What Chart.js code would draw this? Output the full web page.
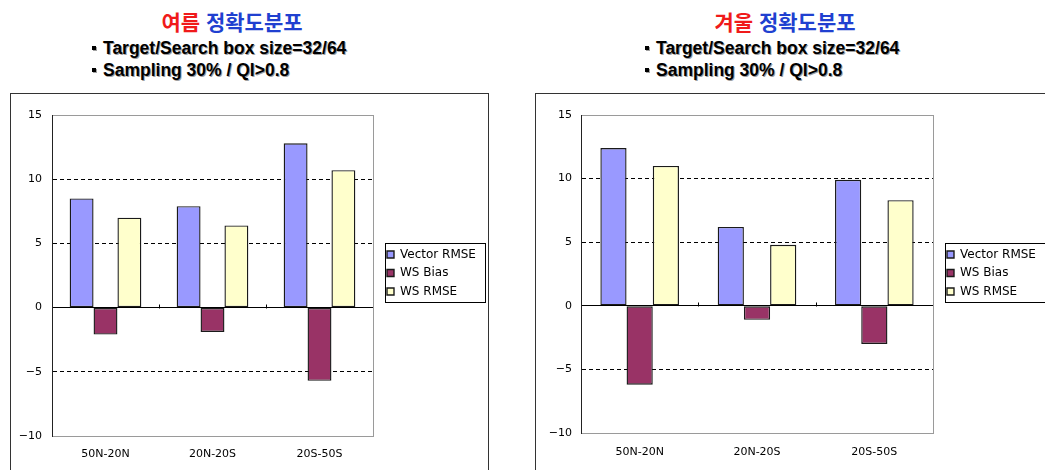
<!DOCTYPE html>
<html lang="ko">
<head>
<meta charset="utf-8">
<script src="https://cdn.jsdelivr.net/npm/chart.js@4.4.1/dist/chart.umd.min.js"></script>
<style>
  html, body { margin: 0; padding: 0; background: #fff; width: 1045px; height: 470px; overflow: hidden; position: relative; }
  .title { position: absolute; top: 9px; font: bold 21px "Noto Sans CJK KR", sans-serif; line-height: 24px; white-space: nowrap; transform: translateX(-50%); }
  .title .season { color: #f01a1a; }
  .title .topic { color: #2040d0; }
  .note { position: absolute; font: bold 17.5px "Liberation Sans", Arial, sans-serif; line-height: 20px; color: #000; white-space: nowrap; text-shadow: 1px 1px 0 #a0a0a0; }
  .note .dot { display: inline-block; width: 4px; height: 4px; background: #000; box-shadow: 1px 1px 0 #a0a0a0; vertical-align: middle; margin-right: 7px; position: relative; top: -1px; }
  .frame { position: absolute; top: 93px; height: 420px; border: 1px solid #333; background: #fff; }
  canvas { position: absolute; }
</style>
</head>
<body>
  <div class="title" style="left:232px"><span class="season">여름</span> <span class="topic">정확도분포</span></div>
  <div class="note" style="left:92px; top:38px"><span class="dot"></span>Target/Search box size=32/64</div>
  <div class="note" style="left:92px; top:60px"><span class="dot"></span>Sampling 30% / QI&gt;0.8</div>

  <div class="title" style="left:785px"><span class="season">겨울</span> <span class="topic">정확도분포</span></div>
  <div class="note" style="left:645px; top:38px"><span class="dot"></span>Target/Search box size=32/64</div>
  <div class="note" style="left:645px; top:60px"><span class="dot"></span>Sampling 30% / QI&gt;0.8</div>

  <div class="frame" style="left:10px; width:477px"></div>
  <div class="frame" style="left:535px; width:600px"></div>

  <canvas id="summer" width="476" height="376" style="left:11px; top:94px"></canvas>
  <canvas id="winter" width="509" height="376" style="left:536px; top:94px"></canvas>

<script>
// Latitude bands and series
const categories = ['50N-20N', '20N-20S', '20S-50S'];
const seriesNames = ['Vector RMSE', 'WS Bias', 'WS RMSE'];
const seriesColors = ['#9999FF', '#993366', '#FFFFCC'];

// Summer accuracy (여름)
const summerVectorRmse = [8.5, 7.9, 12.8];
const summerWsBias = [-2.1, -1.9, -5.7];
const summerWsRmse = [7.0, 6.4, 10.7];

// Winter accuracy (겨울)
const winterVectorRmse = [12.4, 6.2, 9.9];
const winterWsBias = [-6.2, -1.1, -3.0];
const winterWsRmse = [11.0, 4.8, 8.3];

// Value axis
const yMin = -10;
const yMax = 15;
const yStep = 5;

const FONT = '"DejaVu Sans", sans-serif';

// Plot-area trim, category tick marks on the zero line, and boxed legend
const plotFrame = {
  id: 'plotFrame',
  afterLayout(chart, args, o) {
    const lg = chart.legend;
    const pad = lg.options.labels.padding;
    lg.left = o.legendX + 2 - pad;
    lg.top = o.legendY - 1;
    lg.right = lg.left + Math.max(lg.width, o.legendW);
    lg.bottom = lg.top + lg.height;
  },
  afterDatasetsDraw(chart) {
    const {ctx, scales: {x, y}} = chart;
    const y0 = Math.round(y.getPixelForValue(0)) + 0.5;
    ctx.save();
    ctx.strokeStyle = '#000';
    ctx.lineWidth = 1;
    ctx.beginPath();
    for (let i = 1; i < categories.length; i++) {
      const bx = Math.round((x.getPixelForTick(i - 1) + x.getPixelForTick(i)) / 2) + 0.5;
      ctx.moveTo(bx, y0);
      ctx.lineTo(bx, y0 - 4);
    }
    ctx.stroke();
    ctx.restore();
  },
  afterDraw(chart, args, o) {
    const {ctx, chartArea: a} = chart;
    ctx.save();
    ctx.lineWidth = 1;
    ctx.strokeStyle = '#9a9a9a';
    ctx.beginPath();
    ctx.moveTo(Math.round(a.right) + 0.5, Math.round(a.top));
    ctx.lineTo(Math.round(a.right) + 0.5, Math.round(a.bottom) + 1);
    ctx.stroke();
    ctx.strokeStyle = '#000';
    ctx.strokeRect(o.legendX + 0.5, o.legendY + 0.5, o.legendW, o.legendH);
    ctx.restore();
  }
};

function makeChart(id, values, geo) {
  const datasets = values.map((data, i) => ({
    label: seriesNames[i],
    data: data,
    backgroundColor: seriesColors[i],
    borderColor: '#1a1a1a',
    borderWidth: 1.4,
    borderSkipped: false,
    barPercentage: 1,
    categoryPercentage: 0.67
  }));

  return new Chart(document.getElementById(id), {
    type: 'bar',
    data: { labels: categories, datasets },
    plugins: [plotFrame],
    options: {
      responsive: false,
      animation: false,
      devicePixelRatio: 1,
      layout: { padding: { top: geo.top, right: geo.padRight, bottom: 0, left: 0 } },
      plugins: {
        tooltip: { enabled: false },
        title: { display: false },
        legend: {
          position: 'chartArea',
          align: 'start',
          labels: {
            boxWidth: 7,
            boxHeight: 7,
            padding: 6.5,
            color: '#000',
            font: { family: FONT, size: 12 }
          }
        },
        plotFrame: { legendX: geo.legendX, legendY: geo.legendY, legendW: geo.legendW, legendH: 59 }
      },
      scales: {
        x: {
          grid: { display: false, drawTicks: false },
          border: { display: false },
          ticks: { color: '#000', padding: geo.xPad, font: { family: FONT, size: 11 } },
          afterFit(s) { s.height = geo.xHeight; }
        },
        y: {
          min: yMin,
          max: yMax,
          ticks: {
            stepSize: yStep,
            color: '#000',
            padding: geo.yPad,
            font: { family: FONT, size: 11 },
            callback: (v) => String(v).replace('-', '\u2212')
          },
          grid: {
            drawTicks: false,
            lineWidth: 1,
            color: (c) => {
              const v = c.tick ? c.tick.value : null;
              return (v === yMin || v === yMax) ? '#9a9a9a' : '#000';
            }
          },
          border: {
            color: '#222',
            width: 1,
            dash: (c) => {
              const v = c.tick ? c.tick.value : null;
              if (v === null || v === 0 || v === yMin || v === yMax) return [];
              return [4, 3];
            }
          },
          afterFit(s) { s.width = geo.yWidth; }
        }
      }
    }
  });
}

makeChart('summer', [summerVectorRmse, summerWsBias, summerWsRmse], {
  top: 21, padRight: 114, yWidth: 41, xHeight: 34, yPad: 10, xPad: 12,
  legendX: 374, legendY: 149, legendW: 100
});

makeChart('winter', [winterVectorRmse, winterWsBias, winterWsRmse], {
  top: 21, padRight: 112, yWidth: 45, xHeight: 37, yPad: 9, xPad: 13,
  legendX: 409, legendY: 149, legendW: 120
});
</script>
</body>
</html>
